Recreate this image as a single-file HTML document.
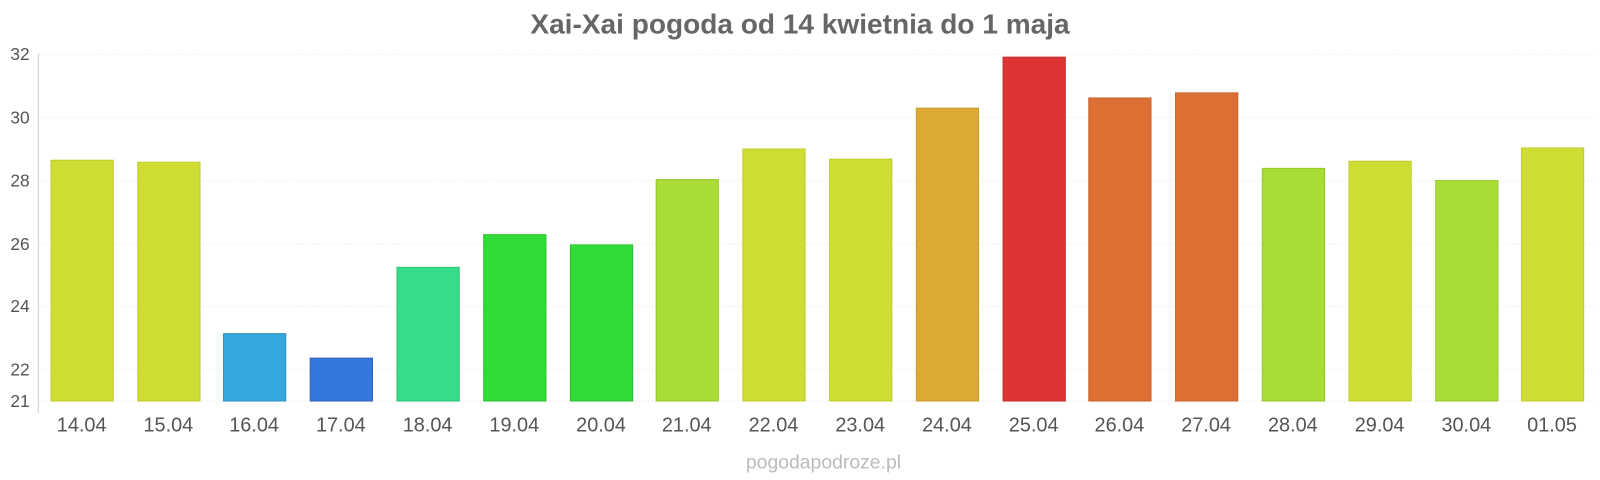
<!DOCTYPE html>
<html><head><meta charset="utf-8"><style>body{margin:0;background:#fff}svg{display:block}</style></head>
<body>
<svg width="1600" height="480" xmlns="http://www.w3.org/2000/svg" font-family="Liberation Sans, sans-serif">
<g transform="translate(-1,0) scale(1.0204)">
<text x="785" y="33" text-anchor="middle" font-size="27.5" font-weight="bold" fill="#666">Xai-Xai pogoda od 14 kwietnia do 1 maja</text>
<g stroke="#eee" stroke-width="1" stroke-dasharray="2,2">
<line x1="39" x2="1565" y1="53" y2="53"/><line x1="39" x2="1565" y1="115" y2="115"/><line x1="39" x2="1565" y1="177" y2="177"/><line x1="39" x2="1565" y1="239" y2="239"/><line x1="39" x2="1565" y1="300" y2="300"/><line x1="39" x2="1565" y1="362" y2="362"/><line x1="39" x2="1565" y1="393" y2="393"/>
</g>
<line x1="38.5" x2="38.5" y1="53" y2="405" stroke="#ccc"/>
<g font-size="17" fill="#555" text-anchor="end">
<text x="30" y="59">32</text><text x="30" y="121">30</text><text x="30" y="183">28</text><text x="30" y="245">26</text><text x="30" y="306">24</text><text x="30" y="368">22</text><text x="30" y="399">21</text>
</g>
<g stroke-width="1">
<rect x="51" y="157" width="61" height="236" fill="#cfdc34" stroke="#c0cc30"/>
<rect x="136" y="159" width="61" height="234" fill="#cfdc34" stroke="#c0cc30"/>
<rect x="220" y="327" width="61" height="66" fill="#34a7dc" stroke="#3090c0"/>
<rect x="305" y="351" width="61" height="42" fill="#3478dc" stroke="#3060c0"/>
<rect x="390" y="262" width="61" height="131" fill="#36dc8a" stroke="#30c07a"/>
<rect x="475" y="230" width="61" height="163" fill="#32dc38" stroke="#2cc030"/>
<rect x="560" y="240" width="61" height="153" fill="#32dc38" stroke="#2cc030"/>
<rect x="644" y="176" width="61" height="217" fill="#a9dc34" stroke="#98c830"/>
<rect x="729" y="146" width="61" height="247" fill="#cfdc34" stroke="#c0cc30"/>
<rect x="814" y="156" width="61" height="237" fill="#cfdc34" stroke="#c0cc30"/>
<rect x="899" y="106" width="61" height="287" fill="#dcaa34" stroke="#c89a30"/>
<rect x="984" y="56" width="61" height="337" fill="#dc3434" stroke="#c03030"/>
<rect x="1068" y="96" width="61" height="297" fill="#dc7034" stroke="#c86430"/>
<rect x="1153" y="91" width="61" height="302" fill="#dc7034" stroke="#c86430"/>
<rect x="1238" y="165" width="61" height="228" fill="#a9dc34" stroke="#98c830"/>
<rect x="1323" y="158" width="61" height="235" fill="#cfdc34" stroke="#c0cc30"/>
<rect x="1408" y="177" width="61" height="216" fill="#a9dc34" stroke="#98c830"/>
<rect x="1492" y="145" width="61" height="248" fill="#cfdc34" stroke="#c0cc30"/>
</g>
<g font-size="19.5" fill="#555" text-anchor="middle">
<text x="81" y="423">14.04</text><text x="166" y="423">15.04</text><text x="250" y="423">16.04</text><text x="335" y="423">17.04</text><text x="420" y="423">18.04</text><text x="505" y="423">19.04</text><text x="590" y="423">20.04</text><text x="674" y="423">21.04</text><text x="759" y="423">22.04</text><text x="844" y="423">23.04</text><text x="929" y="423">24.04</text><text x="1014" y="423">25.04</text><text x="1098" y="423">26.04</text><text x="1183" y="423">27.04</text><text x="1268" y="423">28.04</text><text x="1353" y="423">29.04</text><text x="1438" y="423">30.04</text><text x="1522" y="423">01.05</text>
</g>
<text x="808" y="459" text-anchor="middle" font-size="19" fill="#bbb">pogodapodroze.pl</text>
</g>
</svg>
</body></html>
